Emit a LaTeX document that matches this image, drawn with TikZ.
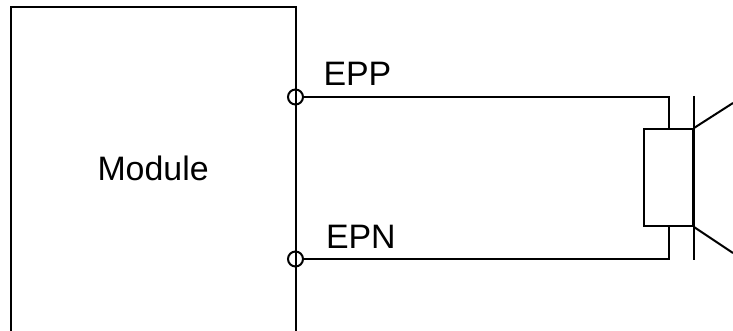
\documentclass[tikz,border=0pt]{standalone}
\usepackage{fontspec}
\setmainfont{Liberation Sans}
\tikzset{
  pin/.style={draw,circle,inner sep=0pt,minimum size=15pt},
  lbl/.style={anchor=base west,inner sep=0pt,font=\fontsize{33.9pt}{36pt}\selectfont}
}
\begin{document}
\begin{tikzpicture}[x=1pt,y=-1pt,line width=2pt]
\useasboundingbox (0,0) rectangle (733,331);
\clip (0,0) rectangle (733,331);
\draw (11,331) -- (11,7) -- (295.5,7) -- (295.5,331); % module outline
\node[lbl] (module) at (96.5,181) {Module};
\node[pin] (epp) at (295.5,97) {};
\node[pin] (epn) at (295.5,259) {};
\node[lbl] (epplbl) at (322.5,86) {EPP};
\node[lbl] (epnlbl) at (325,248) {EPN};
\node[draw,inner sep=0pt,minimum width=49pt,minimum height=97pt] (coil) at (668.5,177.5) {};
\coordinate (conetop) at (733,103);
\coordinate (conebot) at (733,253);
\draw (epp) -| (coil.north);
\draw (epn) -| (coil.south);
\draw (coil.east |- 0,96) -- (coil.east |- 0,260);
\draw (coil.north east) -- (conetop);
\draw (coil.south east) -- (conebot);
\end{tikzpicture}
\end{document}
